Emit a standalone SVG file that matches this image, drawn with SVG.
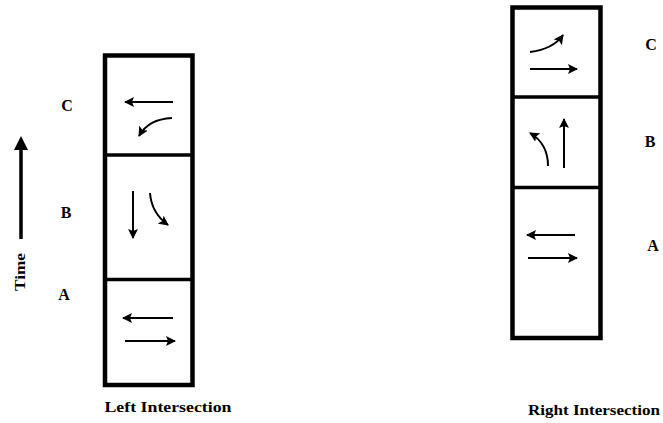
<svg xmlns="http://www.w3.org/2000/svg" width="663" height="423" viewBox="0 0 663 423">
<style>
.box{fill:none;stroke:#000;stroke-width:4.5;stroke-linejoin:miter}
.div{stroke:#000;stroke-width:3.5}
.arr{fill:none;stroke:#000;stroke-width:2}
.lbl{font-family:"Liberation Serif",serif;font-weight:bold;font-size:16px;fill:#000}
.cap{font-family:"Liberation Serif",serif;font-weight:bold;font-size:14px;fill:#000}
</style>
<defs>
<marker id="ah" viewBox="0 0 10 10" refX="9" refY="5" markerWidth="5" markerHeight="5" orient="auto" markerUnits="strokeWidth">
<path d="M0,0 L10,5 L0,10 L2,5 Z" fill="#000"/>
</marker>
</defs>
<rect width="663" height="423" fill="#fff"/>

<g id="left-intersection">
<rect class="box" x="105" y="55.5" width="87.5" height="329.5"/>
<line class="div" x1="105" y1="155" x2="192.5" y2="155"/>
<line class="div" x1="105" y1="279.5" x2="192.5" y2="279.5"/>
</g>
<g id="left-C">
<text class="lbl" x="67" y="111" text-anchor="middle">C</text>
<path class="arr" d="M173,102 L125,102" marker-end="url(#ah)"/>
<path class="arr" d="M172,118 C156,119 146,124 139,136" marker-end="url(#ah)"/>
</g>
<g id="left-B">
<text class="lbl" x="66" y="218" text-anchor="middle">B</text>
<path class="arr" d="M133,191 L133,238" marker-end="url(#ah)"/>
<path class="arr" d="M150,193 C151,206 157,217 168,225" marker-end="url(#ah)"/>
</g>
<g id="left-A">
<text class="lbl" x="64" y="300" text-anchor="middle">A</text>
<path class="arr" d="M173,318 L123,318" marker-end="url(#ah)"/>
<path class="arr" d="M125,341 L175,341" marker-end="url(#ah)"/>
</g>

<g id="right-intersection">
<rect class="box" x="512.5" y="7.5" width="88" height="330.5"/>
<line class="div" x1="512.5" y1="97" x2="600.5" y2="97"/>
<line class="div" x1="512.5" y1="187.5" x2="600.5" y2="187.5"/>
</g>
<g id="right-C">
<text class="lbl" x="651" y="50" text-anchor="middle">C</text>
<path class="arr" d="M530,52 C546,50 556,45 563,35" marker-end="url(#ah)"/>
<path class="arr" d="M530,69 L577,69" marker-end="url(#ah)"/>
</g>
<g id="right-B">
<text class="lbl" x="650" y="147" text-anchor="middle">B</text>
<path class="arr" d="M548,166 C548,150 542,140 530,133" marker-end="url(#ah)"/>
<path class="arr" d="M564,168 L564,119" marker-end="url(#ah)"/>
</g>
<g id="right-A">
<text class="lbl" x="653" y="251" text-anchor="middle">A</text>
<path class="arr" d="M575,235 L527,235" marker-end="url(#ah)"/>
<path class="arr" d="M528,258 L577,258" marker-end="url(#ah)"/>
</g>

<g id="time-axis">
<line x1="21" y1="239" x2="21" y2="146" stroke="#000" stroke-width="3.5"/>
<path d="M21,136 L28,150 L14,150 Z" fill="#000"/>
<text class="cap" transform="translate(20,272) rotate(-90)" text-anchor="middle" dominant-baseline="central" font-size="15" textLength="38" lengthAdjust="spacingAndGlyphs">Time</text>
</g>

<text class="cap" x="168" y="412" text-anchor="middle" textLength="127" lengthAdjust="spacingAndGlyphs">Left Intersection</text>
<text class="cap" x="594" y="415" text-anchor="middle" textLength="132" lengthAdjust="spacingAndGlyphs">Right Intersection</text>
</svg>
